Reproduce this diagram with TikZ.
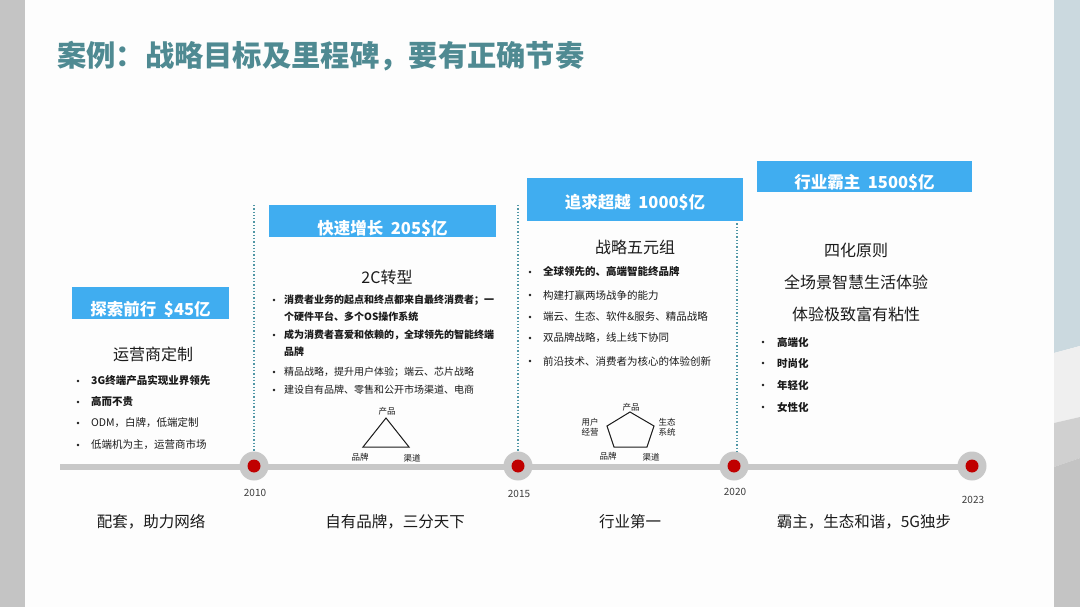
\documentclass[tikz,border=0pt]{standalone}
\usepackage{fontspec}
\usepackage{tikz}
\usepackage{xcolor}
\newfontfamily\cjk{Noto Sans CJK SC}

\definecolor{titleteal}{RGB}{79,138,146}
\definecolor{hdrblue}{RGB}{64,173,240}
\definecolor{ink}{RGB}{26,26,26}
\definecolor{linegray}{RGB}{200,200,200}
\definecolor{dotred}{RGB}{192,0,0}
\definecolor{guide}{RGB}{80,150,165}
\definecolor{sidegray}{RGB}{196,196,196}
\definecolor{sideblue}{RGB}{203,217,223}
\definecolor{sidelight}{RGB}{239,239,239}
\definecolor{sidemid}{RGB}{208,208,208}
\definecolor{slide}{RGB}{253,253,253}

\begin{document}
\begin{tikzpicture}[x=1pt, y=-1pt,
    hdr/.style={fill=hdrblue, text=white, inner sep=0pt, font=\cjk\bfseries\fontsize{16.5}{16.5}\selectfont},
    head/.style={text=ink, inner sep=0pt, font=\cjk\fontsize{16}{16}\selectfont},
    item/.style={anchor=west, text=ink, inner sep=0pt, font=\cjk\fontsize{10.5}{10.5}\selectfont},
    smallitem/.style={item, font=\cjk\fontsize{10}{10}\selectfont},
    dotm/.style={circle, fill=ink, minimum size=2.8pt, inner sep=0pt},
    year/.style={text=ink!85, inner sep=0pt, font=\cjk\fontsize{10}{10}\selectfont},
    tri/.style={text=ink, inner sep=0pt, align=center, font=\cjk\fontsize{8.5}{10}\selectfont},
    ring/.style={circle, fill=linegray, minimum size=29pt, inner sep=0pt},
    reddot/.style={circle, fill=dotred, minimum size=13pt, inner sep=0pt},
    guideline/.style={dotted, line width=1.3pt, color=guide},
    foot/.style={text=ink, inner sep=0pt, font=\cjk\fontsize{15.5}{15.5}\selectfont}
]
    \useasboundingbox (0,0) rectangle (1080,607);
    % page background
    \fill[slide] (0,0) rectangle (1080,607);
    \fill[sidegray] (0,0) rectangle (25,607);
    \fill[sideblue] (1054,0) -- (1080,0) -- (1080,346) -- (1054,353) -- cycle;
    \fill[sidelight] (1054,353) -- (1080,346) -- (1080,417) -- (1054,423) -- cycle;
    \fill[sidemid] (1054,423) -- (1080,417) -- (1080,458) -- (1054,467) -- cycle;
    \fill[sidegray] (1054,467) -- (1080,458) -- (1080,607) -- (1054,607) -- cycle;

    \node[anchor=west, text=titleteal, inner sep=0pt, font=\cjk\bfseries\fontsize{29.3}{29.3}\selectfont]
        (title) at (57,56) {案例：战略目标及里程碑，要有正确节奏};

    % timeline
    \coordinate (tl-start) at (60,467);
    \coordinate (tl-end) at (972,467);
    \draw[line width=6pt, linegray] (tl-start) -- (tl-end);
    \foreach \x/\yr/\yy [count=\i] in {254/2010/493, 518/2015/494, 734/2020/492, 972/2023/500} {
        \node[ring] (ring\i) at (\x,466) {};
        \node[reddot] (dot\i) at (ring\i) {};
        \node[year] (yr\i) at (\x+1,\yy) {\yr};
    }

    % dotted guides
    \coordinate (g1) at (254,205);
    \coordinate (g2) at (518,205);
    \coordinate (g3) at (737,220);
    \draw[guideline] (g1) -- (ring1.north);
    \draw[guideline] (g2) -- (ring2.north);
    \draw[guideline] (g3) -- (g3 |- ring3.north);

    % headers
    \node[hdr, minimum width=157pt, text height=28pt, text depth=4pt] (h1) at (150.5,303) {探索前行\ \ \$45亿};
    \node[hdr, minimum width=227pt, text height=29pt, text depth=3pt] (h2) at (382.5,221) {快速增长\ \ 205\$亿};
    \node[hdr, minimum width=216pt, text height=30pt, text depth=13pt] (h3) at (635,199.5) {追求超越\ \ 1000\$亿};
    \node[hdr, minimum width=215pt, text height=28pt, text depth=3pt] (h4) at (864.5,176.5) {行业霸主\ \ 1500\$亿};

    % stage 1
    \node[head] (s1-head) at (153,354) {运营商定制};
    \foreach \yy/\txt [count=\i] in {381/{\bfseries 3G终端产品实现业界领先}, 402/{\bfseries 高而不贵},
                                     423/{ODM，白牌，低端定制}, 445/{低端机为主，运营商市场}} {
        \node[dotm] (s1-b\i) at (78,\yy) {};
        \node[item] (s1-t\i) at (91,\yy) {\txt};
    }

    % stage 2
    \node[head] (s2-head) at (387,277) {2C转型};
    \foreach \yy/\txt [count=\i] in {300/{\bfseries 消费者业务的起点和终点都来自最终消费者；一},
                                     317/{\bfseries 个硬件平台、多个OS操作系统},
                                     335/{\bfseries 成为消费者喜爱和依赖的，全球领先的智能终端},
                                     352/{\bfseries 品牌},
                                     372/{精品战略，提升用户体验；端云、芯片战略},
                                     390/{建设自有品牌、零售和公开市场渠道、电商}} {
        \node[smallitem] (s2-t\i) at (284,\yy) {\txt};
    }
    \foreach \yy [count=\i] in {300, 335, 372, 390} {
        \node[dotm] (s2-b\i) at (274,\yy) {};
    }
    \coordinate (t-top) at (386,418);
    \coordinate (t-left) at (363,447);
    \coordinate (t-right) at (409,447);
    \draw[ink, line width=1pt, line join=miter] (t-top) -- (t-left) -- (t-right) -- cycle;
    \node[tri] (t-prod) at (387,411) {产品};
    \node[tri] (t-brand) at (360,457) {品牌};
    \node[tri] (t-chan) at (412,458) {渠道};

    % stage 3
    \node[head] (s3-head) at (635,247) {战略五元组};
    \foreach \yy/\txt [count=\i] in {272/{\bfseries 全球领先的、高端智能终品牌}, 295/{构建打赢两场战争的能力},
                                     317/{端云、生态、软件\&服务、精品战略}, 338/{双品牌战略，线上线下协同},
                                     361/{前沿技术、消费者为核心的体验创新}} {
        \node[dotm] (s3-b\i) at (530,\yy) {};
        \node[item] (s3-t\i) at (543,\yy) {\txt};
    }
    \coordinate (p-top) at (630,412);
    \coordinate (p-ul) at (607,426);
    \coordinate (p-ur) at (654,426);
    \coordinate (p-ll) at (614,447);
    \coordinate (p-lr) at (647,447);
    \draw[ink, line width=1pt] (p-top) -- (p-ur) -- (p-lr) -- (p-ll) -- (p-ul) -- cycle;
    \node[tri] (p-prod) at (631,407) {产品};
    \node[tri] (p-user) at (590,427) {用户\\经营};
    \node[tri] (p-eco) at (667,427) {生态\\系统};
    \node[tri] (p-brand) at (608,456) {品牌};
    \node[tri] (p-chan) at (651,457) {渠道};

    % stage 4
    \node[head] (s4-head) at (856,250) {四化原则};
    \node[head] (s4-l2) at (856,282) {全场景智慧生活体验};
    \node[head] (s4-l3) at (856,314) {体验极致富有粘性};
    \foreach \yy/\txt [count=\i] in {342/高端化, 363/时尚化, 385/年轻化, 407/女性化} {
        \node[dotm] (s4-b\i) at (763,\yy) {};
        \node[item, font=\cjk\bfseries\fontsize{10.5}{10.5}\selectfont] (s4-t\i) at (777,\yy) {\txt};
    }

    % bottom captions
    \node[foot] (f1) at (151,522) {配套，助力网络};
    \node[foot] (f2) at (395,522) {自有品牌，三分天下};
    \node[foot] (f3) at (630,522) {行业第一};
    \node[foot] (f4) at (864,522) {霸主，生态和谐，5G独步};
\end{tikzpicture}
\end{document}
